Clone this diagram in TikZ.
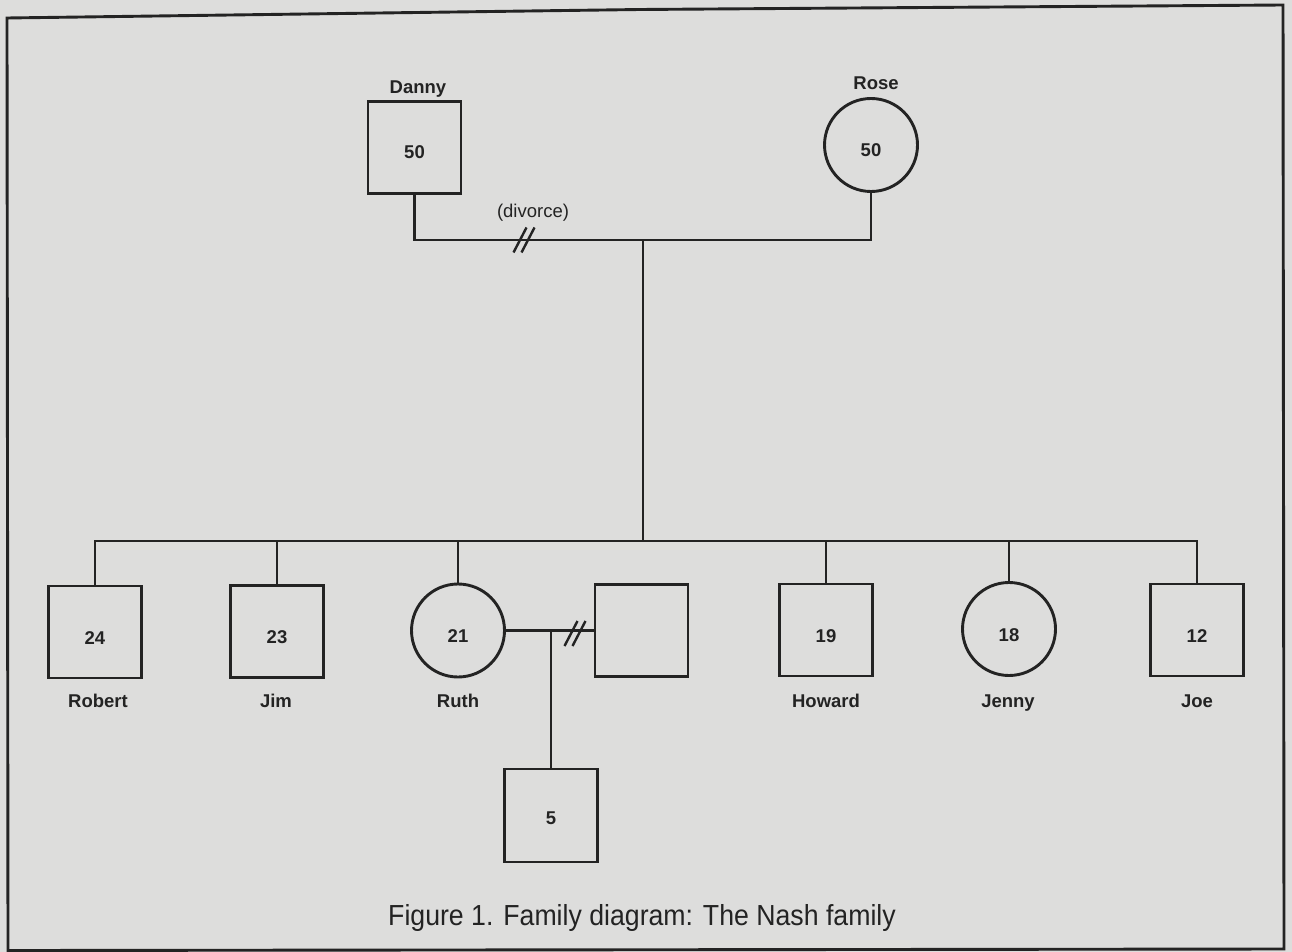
\documentclass[tikz,border=0pt]{standalone}
\usepackage{fontspec}
\setmainfont{Liberation Sans}
\newfontfamily\capfont[FakeStretch=0.92]{Liberation Sans}
\definecolor{bgc}{RGB}{221,221,220}
\definecolor{ink}{RGB}{35,35,35}
\begin{document}
\begin{tikzpicture}[x=1pt,y=-1pt,line width=2.9pt,color=ink,
  sq/.style={draw=ink,rectangle,minimum width=93pt,minimum height=92pt,inner sep=0pt},
  ci/.style={draw=ink,circle,minimum size=93pt,inner sep=0pt},
  lab/.style={font=\fontsize{18.5}{20}\selectfont\bfseries,text=ink,anchor=base,inner sep=0pt},
  num/.style={font=\fontsize{18.5}{20}\selectfont\bfseries,text=ink,inner sep=0pt},
  captext/.style={font=\capfont\fontsize{29}{32}\selectfont,text=ink,anchor=base,inner sep=0pt},
  divmark/.style={line width=2.4pt}]
\fill[bgc] (0,0) rectangle (1292,952);
\useasboundingbox (0,0) rectangle (1292,952);
% frame
\draw (7,18) -- (640,9.5) -- (1283,5) -- (1284,949) -- (8,950.5) -- cycle;
% parents
\node[sq] (danny) at (414.5,147.5) {};
\node[ci] (rose) at (871,145) {};
\node[num] (ndanny) at ([yshift=-5pt]danny.center) {50};
\node[num] (nrose) at ([yshift=-5pt]rose.center) {50};
\node[lab] (ldanny) at (418,94) {Danny};
\node[lab] (lrose) at (876,90) {Rose};
\coordinate (pm) at (643,240);
\draw (danny.south) |- (pm) -| (rose.south);
\node[lab,font=\fontsize{18.5}{20}\selectfont] (ldiv) at (533,218) {(divorce)};
\coordinate (dv) at (524,240);
\draw[divmark] ([shift={(-10.5,12.5)}]dv) -- ++(13,-25);
\draw[divmark] ([shift={(-2.5,12.5)}]dv) -- ++(13,-25);
% children
\coordinate (sib) at (643,541);
\draw (pm) -- (sib);
\node[sq] (robert) at (95,632) {};
\node[sq] (jim) at (277,631.5) {};
\node[ci] (ruth) at (458,630.5) {};
\node[sq] (spouse) at (641.5,630.5) {};
\node[sq] (howard) at (826,630) {};
\node[ci] (jenny) at (1009,629) {};
\node[sq] (joe) at (1197,630) {};
\node[sq,minimum height=93pt] (child) at (551,815.5) {};
\draw (robert.north) |- (sib) -| (joe.north);
\draw (jim.north) -- (jim.north |- sib);
\draw (ruth.north) -- (ruth.north |- sib);
\draw (howard.north) -- (howard.north |- sib);
\draw (jenny.north) -- (jenny.north |- sib);
% numbers
\node[num] (nrobert) at ([yshift=-6pt]robert.center) {24};
\node[num] (njim) at ([yshift=-6pt]jim.center) {23};
\node[num] (nruth) at ([yshift=-6pt]ruth.center) {21};
\node[num] (nhoward) at ([yshift=-6pt]howard.center) {19};
\node[num] (njenny) at ([yshift=-6pt]jenny.center) {18};
\node[num] (njoe) at ([yshift=-6pt]joe.center) {12};
\node[num] (nchild) at ([yshift=-3pt]child.center) {5};
% names
\node[lab] (lrobert) at (98,707) {Robert};
\node[lab] (ljim) at (276,707) {Jim};
\node[lab] (lruth) at (458,707) {Ruth};
\node[lab] (lhoward) at (826,707) {Howard};
\node[lab] (ljenny) at (1008,707) {Jenny};
\node[lab] (ljoe) at (1197,707) {Joe};
% Ruth's marriage
\draw (ruth.east) -- (spouse.west);
\coordinate (rk) at (child.north |- ruth.east);
\draw (rk) -- (child.north);
\coordinate (dv2) at (575,631);
\draw[divmark] ([shift={(-10.5,15)}]dv2) -- ++(13,-25);
\draw[divmark] ([shift={(-2.5,15)}]dv2) -- ++(13,-25);
% caption
\node[captext] (caption) at (642,925) {Figure 1. Family diagram: The Nash family};
\end{tikzpicture}
\end{document}
